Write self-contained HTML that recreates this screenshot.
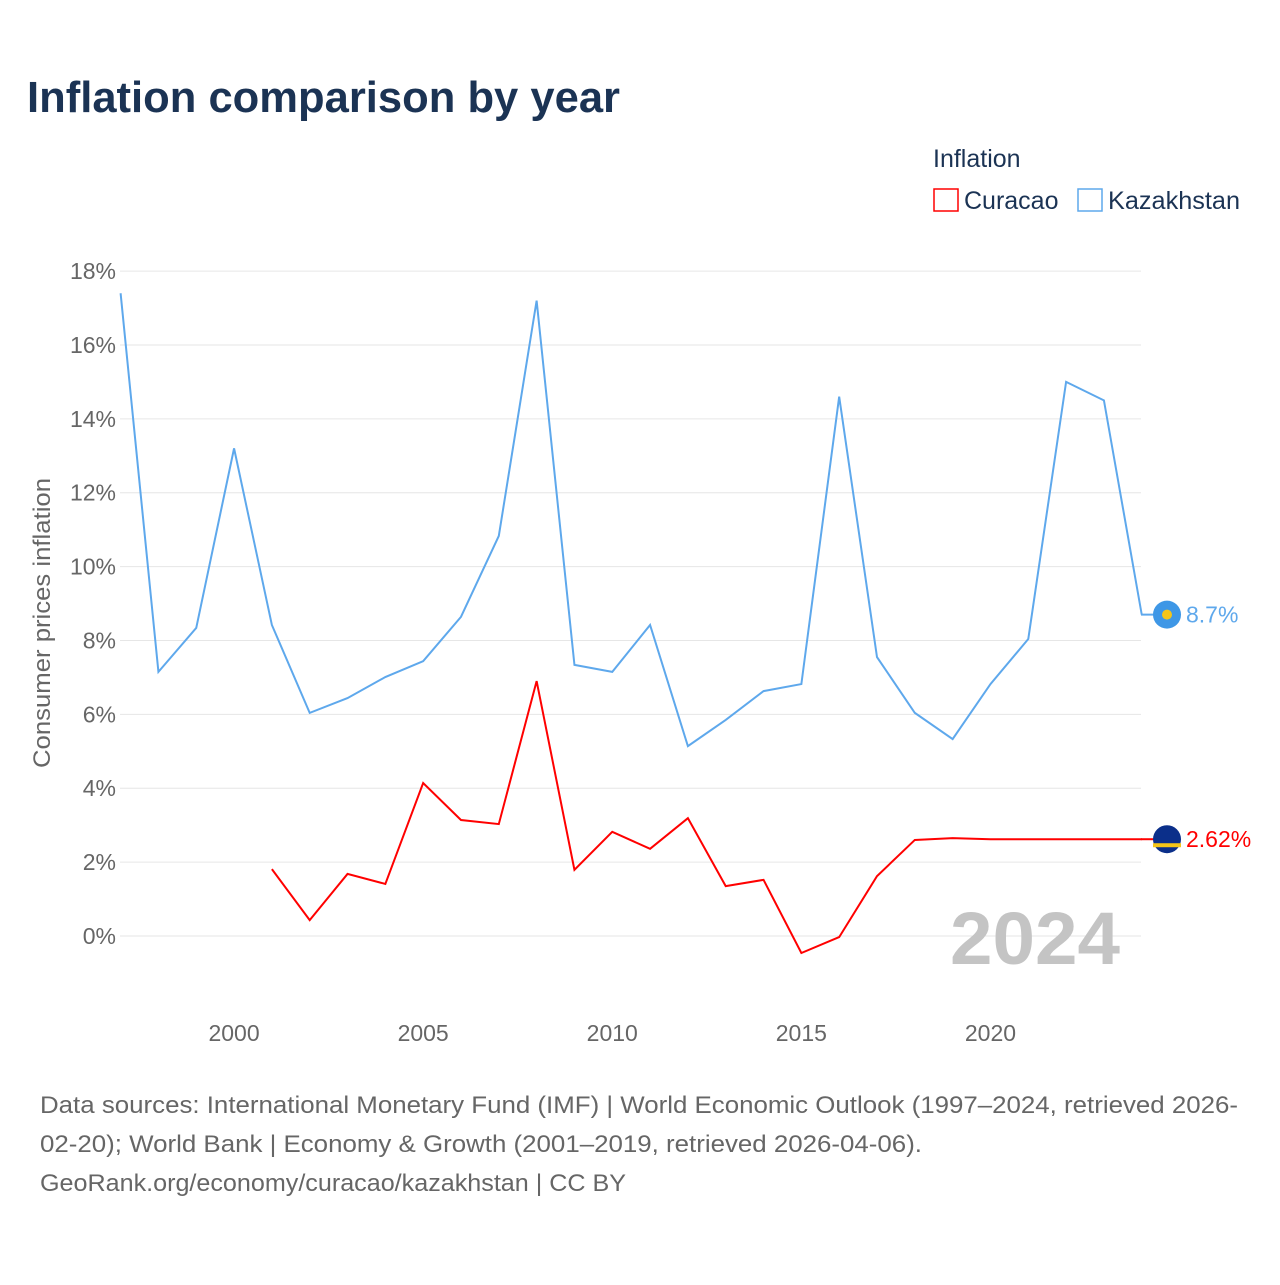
<!DOCTYPE html>
<html><head><meta charset="utf-8"><style>
body{margin:0;background:#fff;font-family:"Liberation Sans",sans-serif}
</style></head><body>
<svg id="c" width="1280" height="1280" xmlns="http://www.w3.org/2000/svg">
<text x="27" y="112" font-size="44" font-weight="bold" fill="#1b3354" textLength="593" lengthAdjust="spacingAndGlyphs">Inflation comparison by year</text>
<text x="933" y="167" font-size="25" fill="#1b3354">Inflation</text>
<g><rect x="934" y="189" width="24" height="22" fill="none" stroke="#f00" stroke-width="1.5"/><text x="964" y="209" font-size="25" fill="#1b3354">Curacao</text></g>
<g><rect x="1078" y="189" width="24" height="22" fill="none" stroke="#5ea8ec" stroke-width="1.5"/><text x="1108" y="209" font-size="25" fill="#1b3354" textLength="132" lengthAdjust="spacingAndGlyphs">Kazakhstan</text></g>
<g id="grid"></g><g id="ylab"></g><g id="xlab"></g>
<text x="1120" y="964" text-anchor="end" font-size="74" font-weight="bold" fill="#c4c4c4" textLength="170" lengthAdjust="spacingAndGlyphs">2024</text>
<text transform="translate(50,623) rotate(-90)" text-anchor="middle" font-size="24" fill="#666" textLength="290" lengthAdjust="spacingAndGlyphs">Consumer prices inflation</text>
<g id="series"></g>
<g font-size="24" fill="#666">
<text x="40" y="1113" textLength="1198" lengthAdjust="spacingAndGlyphs">Data sources: International Monetary Fund (IMF) | World Economic Outlook (1997–2024, retrieved 2026-</text>
<text x="40" y="1152" textLength="882" lengthAdjust="spacingAndGlyphs">02-20); World Bank | Economy &amp; Growth (2001–2019, retrieved 2026-04-06).</text>
<text x="40" y="1191" textLength="586" lengthAdjust="spacingAndGlyphs">GeoRank.org/economy/curacao/kazakhstan | CC BY</text></g>
</svg>
<script>
const kzYears=[1997,1998,1999,2000,2001,2002,2003,2004,2005,2006,2007,2008,2009,2010,2011,2012,2013,2014,2015,2016,2017,2018,2019,2020,2021,2022,2023,2024];
const kzValues=[17.4,7.15,8.34,13.2,8.42,6.04,6.44,7.01,7.44,8.64,10.83,17.2,7.34,7.15,8.42,5.14,5.85,6.63,6.82,14.6,7.55,6.04,5.33,6.82,8.04,15.0,14.5,8.7];
const cwYears=[2001,2002,2003,2004,2005,2006,2007,2008,2009,2010,2011,2012,2013,2014,2015,2016,2017,2018,2019,2020,2021,2022,2023,2024];
const cwValues=[1.81,0.43,1.68,1.41,4.14,3.14,3.03,6.9,1.79,2.82,2.36,3.19,1.35,1.52,-0.46,-0.03,1.62,2.6,2.65,2.62,2.62,2.62,2.62,2.62];
const yTicks=[0,2,4,6,8,10,12,14,16,18];
const xTicks=[2000,2005,2010,2015,2020];
const NS="http://www.w3.org/2000/svg";
const X=y=>120.6+(y-1997)*37.82, Y=v=>936-v*36.94;
function mk(t,a,p){const e=document.createElementNS(NS,t);for(const k in a)e.setAttribute(k,a[k]);document.getElementById(p).appendChild(e);return e;}
yTicks.forEach(v=>{
 const l=mk('line',{x1:120,x2:1141,y1:Y(v),y2:Y(v),stroke:'#e6e6e6','stroke-width':1},'grid');
 
 
 const t=mk('text',{x:116,y:Y(v)+8,'text-anchor':'end','font-size':23,fill:'#666'},'ylab');t.textContent=v+'%';
 
 
});
xTicks.forEach(v=>{
 const t=mk('text',{x:X(v),y:1041,'text-anchor':'middle','font-size':23,fill:'#666'},'xlab');t.textContent=v;
 
 
});
function line(ys,vs,col,name,label){
 const p=mk('polyline',{points:ys.map((y,i)=>X(y)+','+Y(vs[i])).join(' '),fill:'none',stroke:col,'stroke-width':2},'series');
 
 
 const lv=vs[vs.length-1],cy=Y(lv);
 mk('line',{x1:1141,x2:1155,y1:cy,y2:cy,stroke:col,'stroke-width':2},'series');
 const c=mk('circle',{cx:1167,cy:cy,r:14,fill:name=='kazakhstan'?'#3e97e6':'#0b2f8a'},'series');
 
 
 if(name=='curacao')mk('rect',{x:1153,y:cy+4,width:28,height:4,fill:'#f5c518'},'series');
 else mk('circle',{cx:1167,cy:cy,r:5,fill:'#f5c518'},'series');
 const t=mk('text',{x:1186,y:cy+8,'font-size':23,fill:col},'series');t.textContent=label;
 
 
}
line(kzYears,kzValues,'#5ea8ec','kazakhstan','8.7%');
line(cwYears,cwValues,'#f00','curacao','2.62%');
</script>
</body></html>
